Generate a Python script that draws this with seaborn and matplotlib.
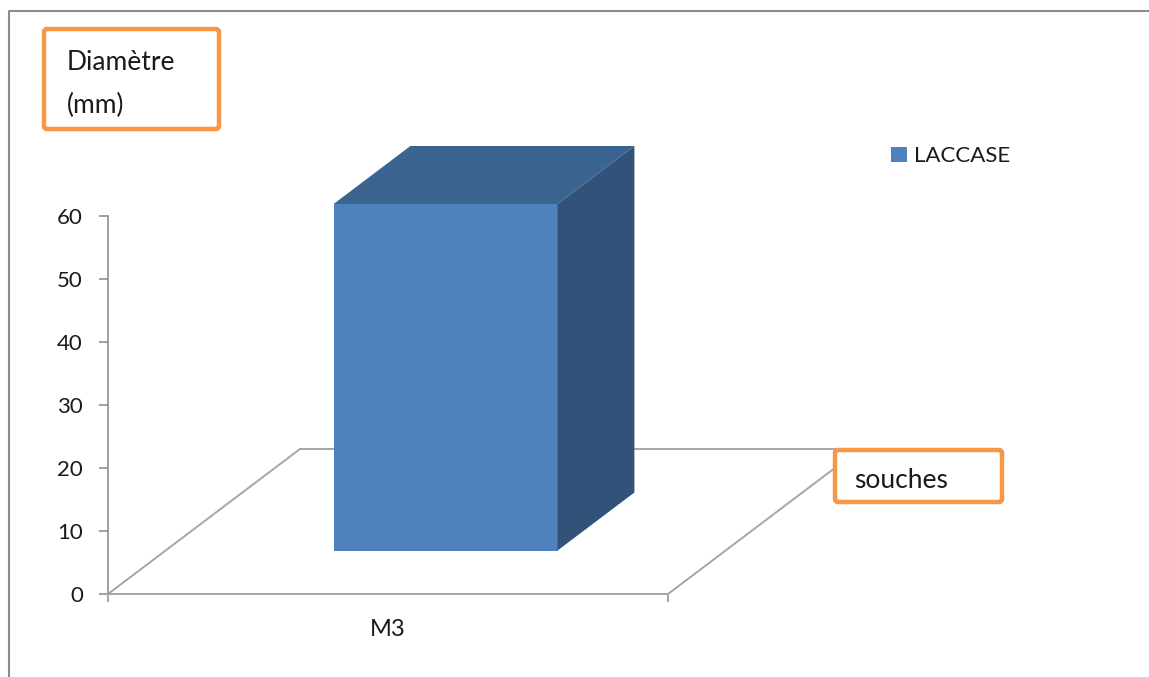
import numpy as np
import pandas as pd
import matplotlib
matplotlib.use("Agg")
import matplotlib.pyplot as plt
import seaborn as sns
from matplotlib.patches import Polygon, FancyBboxPatch
from matplotlib.lines import Line2D

# ---------------- data ----------------
categories = ["M3"]
values = [55]
series_name = "LACCASE"
y_ticks = [0, 10, 20, 30, 40, 50, 60]
y_title = ["Diamètre", "(mm)"]
x_title = "souches"

# ---------------- style ----------------
W, H = 1149, 677
FRONT = "#4F81BD"
TOP = "#3C6491"
SIDE = "#32527A"
AXIS_GREY = "#868686"
FLOOR_GREY = "#A6A6A6"
ORANGE = "#F79646"
TXT = "#1a1a1a"

sns.set_theme(style="white")
plt.rcParams["font.family"] = ["Lato", "DejaVu Sans"]

fig = plt.figure(figsize=(W / 100, H / 100), dpi=100)
fig.patch.set_facecolor("white")

# plot area (front plane of the 3D floor), in pixels
px_left, px_right, px_bottom, px_top = 108, 668, 594, 216
ax = fig.add_axes([px_left / W, 1 - px_bottom / H,
                   (px_right - px_left) / W, (px_bottom - px_top) / H])
ax.patch.set_alpha(0)

df = pd.DataFrame({"souches": categories, "diametre": values})
sns.barplot(data=df, x="souches", y="diametre", width=0.4, color=FRONT,
            saturation=1, ax=ax, label=series_name, zorder=3)
ax.set_xlim(-0.5, 0.5)
ax.set_ylim(0, 60)

# oblique depth vector (pixels) converted to data units
depth_px = (192, 145)
ddx = depth_px[0] / (px_right - px_left) * (ax.get_xlim()[1] - ax.get_xlim()[0])
ddy = depth_px[1] / (px_bottom - px_top) * (ax.get_ylim()[1] - ax.get_ylim()[0])
d0, d1 = 0.30, 0.70  # bar front / back depth fractions

# floor
xl, xr = ax.get_xlim()
floor = [((xl, 0), (xr, 0)), ((xr, 0), (xr + ddx, ddy)),
         ((xl + ddx, ddy), (xr + ddx, ddy)), ((xl, 0), (xl + ddx, ddy))]
for (a, b) in floor:
    ax.add_line(Line2D([a[0], b[0]], [a[1], b[1]], color=FLOOR_GREY, lw=1.4,
                       clip_on=False, zorder=1))

# 3D bar faces
for patch in list(ax.patches):
    x0 = patch.get_x()
    w = patch.get_width()
    h = patch.get_height()
    x1 = x0 + w
    patch.set_x(x0 + d0 * ddx)
    patch.set_y(d0 * ddy)
    patch.set_linewidth(0)
    patch.set_clip_on(False)
    top = Polygon([(x0 + d0 * ddx, h + d0 * ddy), (x1 + d0 * ddx, h + d0 * ddy),
                   (x1 + d1 * ddx, h + d1 * ddy), (x0 + d1 * ddx, h + d1 * ddy)],
                  closed=True, facecolor=TOP, edgecolor="none", clip_on=False, zorder=3)
    side = Polygon([(x1 + d0 * ddx, d0 * ddy), (x1 + d1 * ddx, d1 * ddy),
                    (x1 + d1 * ddx, h + d1 * ddy), (x1 + d0 * ddx, h + d0 * ddy)],
                   closed=True, facecolor=SIDE, edgecolor="none", clip_on=False, zorder=3)
    ax.add_patch(top)
    ax.add_patch(side)

# axes styling
for s in ["top", "right"]:
    ax.spines[s].set_visible(False)
ax.spines["left"].set_color(AXIS_GREY)
ax.spines["left"].set_linewidth(1.1)
ax.spines["bottom"].set_color(FLOOR_GREY)
ax.spines["bottom"].set_linewidth(1.4)
ax.set_yticks(y_ticks)
ax.tick_params(axis="y", left=True, direction="out", length=6.5, width=1.1,
               color=AXIS_GREY, pad=11.5, labelsize=16, labelcolor=TXT)
ax.set_xticks([0])
ax.set_xticklabels(categories)
ax.tick_params(axis="x", which="major", bottom=True, length=0, pad=18,
               labelsize=17, labelcolor=TXT)
ax.set_xticks([xl, xr], minor=True)
ax.tick_params(axis="x", which="minor", bottom=True, direction="out", length=6,
               width=1.4, color=FLOOR_GREY)
ax.set_xlabel("")
ax.set_ylabel("")

handles, labels = ax.get_legend_handles_labels()
ax.legend(handles, labels, loc="center left",
          bbox_to_anchor=(891 / W, 1 - 156 / H), bbox_transform=fig.transFigure,
          frameon=False, fontsize=16, handlelength=0.73, handleheight=0.64,
          handletextpad=0.32, borderpad=0, borderaxespad=0, labelcolor=TXT)

# overlay in pixel space for frame and annotation boxes
ov = fig.add_axes([0, 0, 1, 1], zorder=5)
ov.set_xlim(0, W)
ov.set_ylim(H, 0)
ov.axis("off")
ov.plot([9, 9, W + 5], [H + 5, 11, 11], color="#8C8C8C", lw=1.5,
        clip_on=False, solid_capstyle="butt")

ov.add_patch(FancyBboxPatch((44, 29), 175, 100,
                            boxstyle="round,pad=0,rounding_size=3",
                            ec=ORANGE, fc="none", lw=3.2))
ov.text(67, 70, y_title[0], fontsize=19, va="baseline", ha="left", color=TXT)
ov.text(67, 113, y_title[1], fontsize=19, va="baseline", ha="left", color=TXT)

ov.add_patch(FancyBboxPatch((835, 450), 167, 52,
                            boxstyle="round,pad=0,rounding_size=3",
                            ec=ORANGE, fc="white", lw=3.2))
ov.text(854, 488, x_title, fontsize=19, va="baseline", ha="left", color=TXT)

fig.savefig("out.png", dpi=100, facecolor="white")
